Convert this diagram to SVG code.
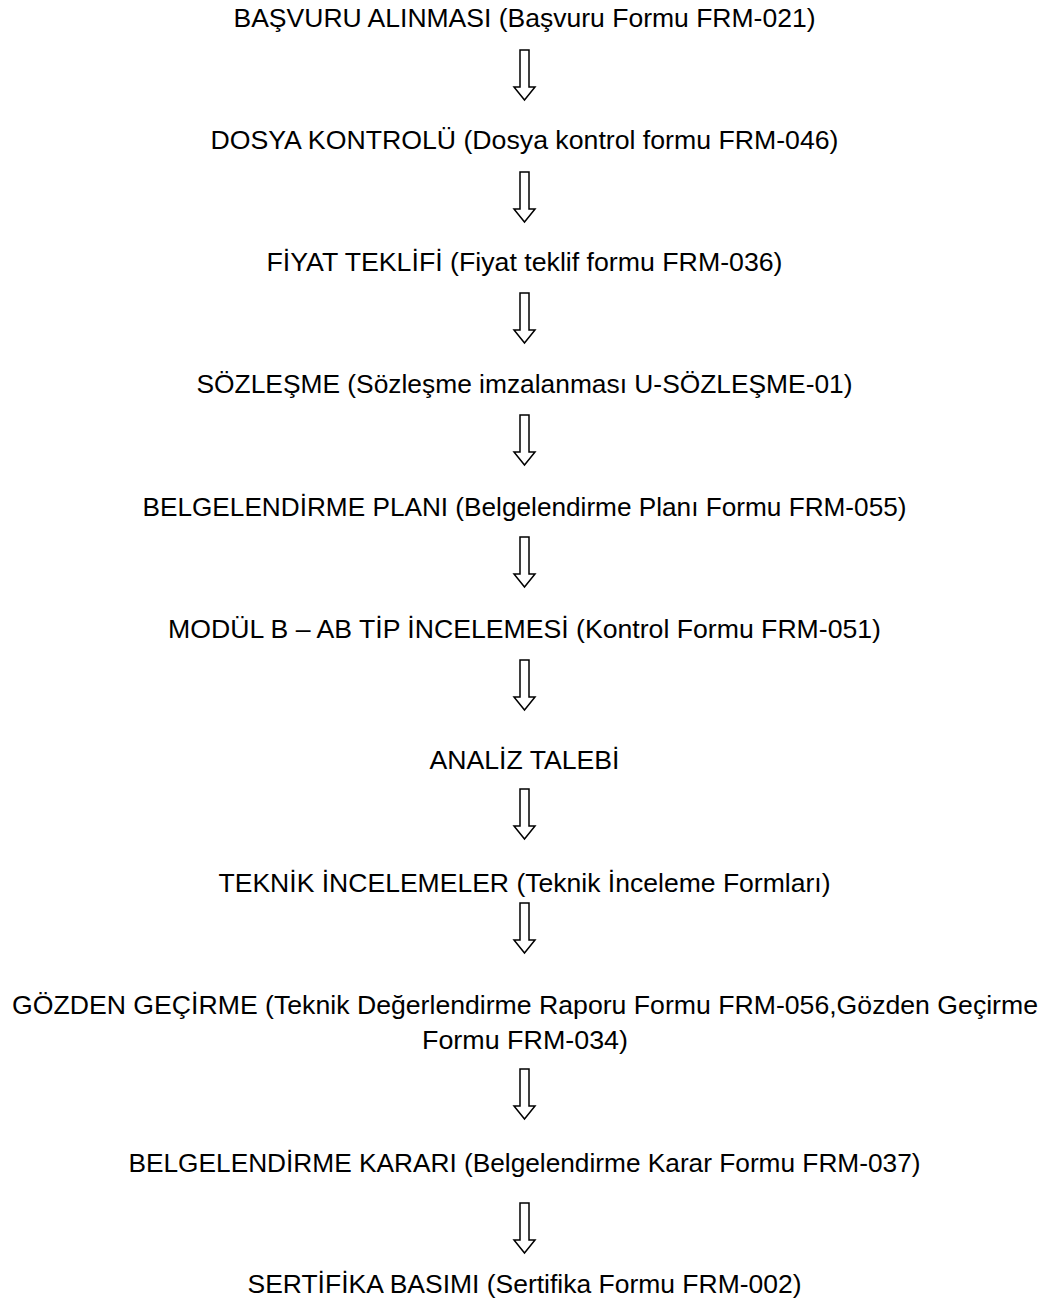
<svg xmlns="http://www.w3.org/2000/svg" width="1057" height="1309" viewBox="0 0 1057 1309">
<defs>
<style>
.t{font-family:"Liberation Sans",Arial,sans-serif;font-size:26px;fill:#000;text-anchor:middle}
.a{fill:#fff;stroke:#000;stroke-width:1.5;stroke-linejoin:miter}
</style>
<path id="arr" d="M-4.5,0 H4.5 V37 H10.5 L0,50 L-10.5,37 H-4.5 Z"/>
</defs>
<rect width="1057" height="1309" fill="#fff"/>
<g id="n1"><text class="t" x="524.5" y="27" textLength="582" lengthAdjust="spacingAndGlyphs">BAŞVURU ALINMASI (Başvuru Formu FRM-021)</text></g>
<g id="n2"><text class="t" x="524.5" y="149" textLength="628" lengthAdjust="spacingAndGlyphs">DOSYA KONTROLÜ (Dosya kontrol formu FRM-046)</text></g>
<g id="n3"><text class="t" x="524.5" y="271" textLength="516" lengthAdjust="spacingAndGlyphs">FİYAT TEKLİFİ (Fiyat teklif formu FRM-036)</text></g>
<g id="n4"><text class="t" x="524.5" y="393" textLength="656" lengthAdjust="spacingAndGlyphs">SÖZLEŞME (Sözleşme imzalanması U-SÖZLEŞME-01)</text></g>
<g id="n5"><text class="t" x="524.5" y="516" textLength="764" lengthAdjust="spacingAndGlyphs">BELGELENDİRME PLANI (Belgelendirme Planı Formu FRM-055)</text></g>
<g id="n6"><text class="t" x="524.5" y="638" textLength="713" lengthAdjust="spacingAndGlyphs">MODÜL B – AB TİP İNCELEMESİ (Kontrol Formu FRM-051)</text></g>
<g id="n7"><text class="t" x="524.5" y="769" textLength="190" lengthAdjust="spacingAndGlyphs">ANALİZ TALEBİ</text></g>
<g id="n8"><text class="t" x="524.5" y="892" textLength="612" lengthAdjust="spacingAndGlyphs">TEKNİK İNCELEMELER (Teknik İnceleme Formları)</text></g>
<g id="n9"><text class="t" x="525" y="1014" textLength="1026" lengthAdjust="spacingAndGlyphs">GÖZDEN GEÇİRME (Teknik Değerlendirme Raporu Formu FRM-056,Gözden Geçirme</text><text class="t" x="525" y="1049" textLength="206" lengthAdjust="spacingAndGlyphs">Formu FRM-034)</text></g>
<g id="n10"><text class="t" x="524.5" y="1172" textLength="792" lengthAdjust="spacingAndGlyphs">BELGELENDİRME KARARI (Belgelendirme Karar Formu FRM-037)</text></g>
<g id="n11"><text class="t" x="524.5" y="1293" textLength="554" lengthAdjust="spacingAndGlyphs">SERTİFİKA BASIMI (Sertifika Formu FRM-002)</text></g>
<g id="connectors" class="a">
<use href="#arr" x="524.5" y="50"/>
<use href="#arr" x="524.5" y="172"/>
<use href="#arr" x="524.5" y="293"/>
<use href="#arr" x="524.5" y="415"/>
<use href="#arr" x="524.5" y="537"/>
<use href="#arr" x="524.5" y="660"/>
<use href="#arr" x="524.5" y="789"/>
<use href="#arr" x="524.5" y="903"/>
<use href="#arr" x="524.5" y="1069"/>
<use href="#arr" x="524.5" y="1203"/>
</g>
</svg>
